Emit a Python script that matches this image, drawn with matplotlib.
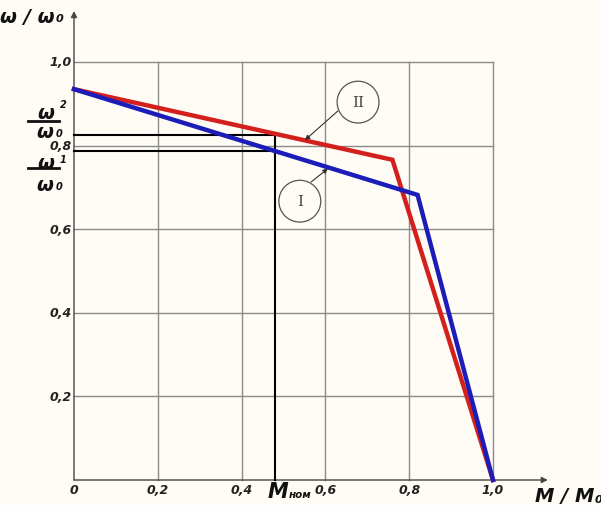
import matplotlib
matplotlib.use("Agg")
import matplotlib.pyplot as plt
from matplotlib.patches import Circle

# ---- data ------------------------------------------------------------------
grid_vals = [0.2, 0.4, 0.6, 0.8, 1.0]
x_tick_labels = ["0", "0,2", "0,4", "0,6", "0,8", "1,0"]
y_tick_labels = ["0,2", "0,4", "0,6", "0,8", "1,0"]

# curve II (red) and curve I (blue): M/M0 vs w/w0
m_curve2 = [0.0, 0.76, 1.0]
w_curve2 = [0.935, 0.766, 0.0]
m_curve1 = [0.0, 0.82, 1.0]
w_curve1 = [0.935, 0.682, 0.0]

m_nom = 0.48
w2_nom = 0.825
w1_nom = 0.787

RED = "#d3201c"
BLUE = "#1c1cb8"
GRID = "#8a8a8a"
BG = "#fefcf4"
FONT = ["Liberation Sans Narrow", "DejaVu Sans"]

fig = plt.figure(figsize=(6.01, 5.06), dpi=100, facecolor=BG)
ax = fig.add_axes([0, 0, 1, 1])
ax.set_facecolor(BG)
ax.set_xlim(-0.1766, 1.2578)
ax.set_ylim(-0.0598, 1.1507)
ax.axis("off")

# grid box
for v in grid_vals:
    ax.plot([v, v], [0, 1.0], color=GRID, lw=1.0, zorder=1)
    ax.plot([0, 1.0], [v, v], color=GRID, lw=1.0, zorder=1)

# axes with arrows
ax.annotate("", xy=(0, 1.122), xytext=(0, 0),
            arrowprops=dict(arrowstyle="-|>", color="#444444", lw=1.0,
                            mutation_scale=9, shrinkA=0, shrinkB=0), zorder=2)
ax.annotate("", xy=(1.131, 0), xytext=(0, 0),
            arrowprops=dict(arrowstyle="-|>", color="#444444", lw=1.0,
                            mutation_scale=9, shrinkA=0, shrinkB=0), zorder=2)

# nominal point construction lines
ax.plot([0, m_nom, m_nom], [w2_nom, w2_nom, 0], color="black", lw=1.5, zorder=2)
ax.plot([0, m_nom], [w1_nom, w1_nom], color="black", lw=1.5, zorder=2)

# curves
ax.plot(m_curve2, w_curve2, color=RED, lw=3.2, solid_joinstyle="miter", zorder=3)
ax.plot(m_curve1, w_curve1, color=BLUE, lw=3.2, solid_joinstyle="miter", zorder=4)

# roman numeral callouts
for (cx, cy), txt, (sx, sy), (tx, ty) in [
    ((0.678, 0.904), "II", (0.630, 0.883), (0.551, 0.813)),
    ((0.539, 0.667), "I", (0.566, 0.713), (0.606, 0.745)),
]:
    ax.add_patch(Circle((cx, cy), 0.05, fill=False, ec="#555555", lw=0.9, zorder=5))
    ax.text(cx, cy, txt, ha="center", va="center", family="DejaVu Serif",
            fontsize=11, color="#444444", zorder=5)
    ax.annotate("", xy=(tx, ty), xytext=(sx, sy),
                arrowprops=dict(arrowstyle="-|>", color="#333333", lw=0.8,
                                mutation_scale=7, shrinkA=0, shrinkB=0), zorder=5)

tick_kw = dict(family=FONT, style="italic", weight="bold", fontsize=9, color="#222222")
for v, lab in zip([0.0] + grid_vals, x_tick_labels):
    ax.text(v, -0.022, lab, ha="center", va="center", **tick_kw)
for v, lab in zip(grid_vals, y_tick_labels):
    ax.text(-0.005, v, lab, ha="right", va="center", **tick_kw)

lab_kw = dict(family=FONT, style="italic", weight="bold", color="#111111")
# axis titles
ax.text(-0.177, 1.11, "ω / ω", ha="left", va="center", fontsize=14, **lab_kw)
ax.text(-0.045, 1.105, "0", ha="left", va="center", fontsize=8, **lab_kw)
ax.text(1.10, -0.037, "M / M", ha="left", va="center", fontsize=14, **lab_kw)
ax.text(1.243, -0.045, "0", ha="left", va="center", fontsize=8, **lab_kw)
ax.text(0.487, -0.027, "M", ha="center", va="center", fontsize=15, **lab_kw)
ax.text(0.512, -0.033, "ном", ha="left", va="center", fontsize=7.5, **lab_kw)

# fraction labels on the left
for ynum, ysub, ybar, yden, sub in [(0.880, 0.900, 0.859, 0.833, "2"),
                                    (0.760, 0.768, 0.746, 0.708, "1")]:
    ax.text(-0.067, ynum, "ω", ha="center", va="center", fontsize=14, **lab_kw)
    ax.text(-0.034, ysub, sub, ha="left", va="center", fontsize=7, **lab_kw)
    ax.plot([-0.110, -0.036], [ybar, ybar], color="#111111", lw=2.0)
    ax.text(-0.069, yden, "ω", ha="center", va="center", fontsize=14, **lab_kw)
    ax.text(-0.044, yden - 0.004, "0", ha="left", va="center", fontsize=7, **lab_kw)

fig.savefig("out.png", dpi=100, facecolor=BG)
